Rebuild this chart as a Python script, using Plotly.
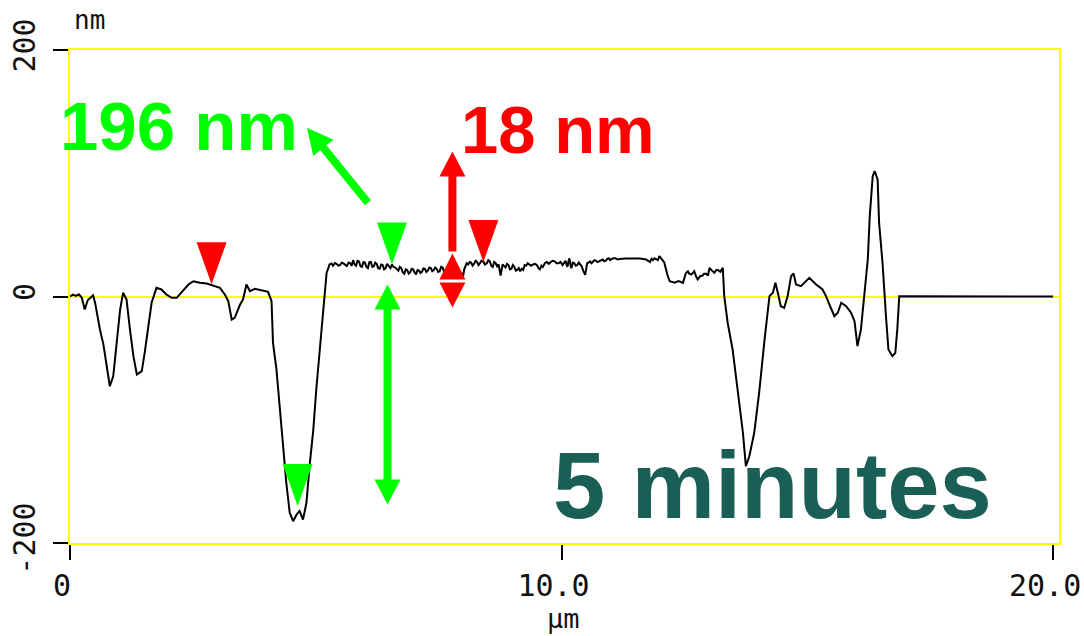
import math
import plotly.graph_objects as go

# Height profile along the scan line
profile_x_um = [
    0.00, 0.06, 0.12, 0.18, 0.24, 0.30, 0.36, 0.41, 0.47, 0.51, 0.61, 0.68, 0.75, 0.81,
    0.88, 0.95, 1.02, 1.08, 1.15, 1.22, 1.29, 1.36, 1.46, 1.52, 1.59, 1.66, 1.76, 1.86,
    1.96, 2.07, 2.17, 2.30, 2.41, 2.51, 2.64, 2.78, 2.91, 3.05, 3.15, 3.22, 3.29, 3.35,
    3.46, 3.52, 3.59, 3.66, 3.76, 3.86, 4.03, 4.10, 4.13, 4.20, 4.27, 4.33, 4.40, 4.47,
    4.54, 4.61, 4.67, 4.74, 4.81, 4.88, 4.95, 5.01, 5.08, 5.15, 5.22, 5.28,
    5.32, 5.35, 5.39, 5.42, 5.46, 5.49, 5.53, 5.56, 5.60, 5.63, 5.67, 5.70, 5.73, 5.76,
    5.79, 5.82, 5.85, 5.88, 5.91, 5.94, 5.97, 6.00, 6.03, 6.06, 6.09, 6.12, 6.15, 6.18,
    6.21, 6.24, 6.27, 6.30, 6.33, 6.36, 6.39, 6.42, 6.45, 6.48, 6.52, 6.55, 6.58, 6.62,
    6.65, 6.68, 6.71, 6.74, 6.77, 6.80, 6.83, 6.86, 6.89, 6.92, 6.95, 6.98, 7.01, 7.04,
    7.07, 7.10, 7.13, 7.16, 7.19, 7.22, 7.25, 7.28, 7.31, 7.34, 7.37, 7.40, 7.43, 7.46,
    7.49, 7.52, 7.55, 7.58, 7.61, 7.64, 7.67, 7.70, 7.73, 7.76, 7.79, 7.82, 7.85, 7.88,
    7.91, 7.94, 7.97, 7.99, 8.02, 8.04, 8.07, 8.10, 8.13, 8.16, 8.19, 8.22, 8.25, 8.28,
    8.31, 8.34, 8.37, 8.41, 8.44, 8.48, 8.51, 8.54, 8.57, 8.60, 8.63, 8.66, 8.69, 8.72,
    8.76, 8.80, 8.83, 8.86, 8.89, 8.92, 8.95, 8.98, 9.01, 9.04, 9.07, 9.10, 9.13, 9.16,
    9.19, 9.22, 9.25, 9.28, 9.31, 9.34, 9.38, 9.42, 9.46, 9.50, 9.53, 9.56, 9.59, 9.62,
    9.66, 9.70, 9.74, 9.78, 9.82, 9.86, 9.90, 9.94, 9.98, 10.02, 10.05, 10.08, 10.10,
    10.12, 10.14, 10.16, 10.18, 10.20, 10.23, 10.26, 10.29, 10.32, 10.35, 10.38, 10.41,
    10.44, 10.46, 10.48, 10.50, 10.52, 10.55, 10.58, 10.61, 10.64, 10.67, 10.70, 10.73,
    10.76, 10.80, 10.84, 10.87, 10.90, 10.93, 10.96, 10.99, 11.02, 11.06, 11.10, 11.14,
    11.18, 11.30, 11.45, 11.60, 11.72, 11.76, 11.80, 11.83, 11.86, 11.89, 11.92, 11.96,
    11.99, 12.05, 12.09, 12.15, 12.20, 12.30, 12.38, 12.47, 12.53, 12.57, 12.60, 12.64,
    12.67, 12.70, 12.74, 12.77, 12.82, 12.87, 12.90, 12.94, 12.98, 13.01, 13.06, 13.11,
    13.15, 13.18, 13.23, 13.28, 13.31, 13.38, 13.48, 13.58, 13.69, 13.75, 13.82, 13.92,
    14.02, 14.13, 14.23, 14.30, 14.35, 14.40, 14.46, 14.53, 14.60, 14.67, 14.72, 14.77,
    14.87, 15.04, 15.18, 15.31, 15.38, 15.45, 15.55, 15.62, 15.69, 15.79, 15.89, 15.96,
    16.00, 16.02, 16.09, 16.16, 16.23, 16.27, 16.33, 16.37, 16.43, 16.46, 16.53, 16.60,
    16.65, 16.73, 16.79, 16.83, 16.87, 20.00,
]
profile_nm = [
    0.0, 1.5, 0.5, 1.8, -1.0, -10.5, -3.0, -1.0, 1.0, -5.0, -27.0, -39.0, -56.5, -72.8,
    -64.6, -35.0, -10.5, 3.0, -2.4, -26.8, -48.4, -63.3, -60.6, -45.6, -24.0, -5.1, 7.0, 5.7,
    1.6, -1.1, -1.1, 4.3, 9.7, 12.4, 11.1, 10.5, 8.9, 7.0, 1.6, -3.8, -18.7, -17.3,
    -6.5, -2.4, 9.7, 4.3, 6.2, 5.1, 3.8, -3.8, -37.6, -59.2, -91.7, -121.5, -151.0, -175.5,
    -182.3, -177.0, -174.0, -181.0, -167.4, -135.0, -108.0, -75.5, -43.0, -7.9, 19.2, 26.0,
    26.8, 25.0, 27.2, 26.5, 25.0, 25.5, 27.4, 26.8, 25.2, 24.8, 27.6, 27.0, 25.0, 29.5,
    26.0, 25.0, 29.0, 28.5, 24.5, 24.0, 28.0, 27.5, 24.0, 23.0, 27.8, 28.0, 24.0, 24.5,
    27.5, 26.5, 23.0, 22.5, 26.0, 25.5, 22.0, 23.0, 26.5, 24.5, 23.0, 26.0, 24.0, 23.5,
    22.0, 21.0, 24.0, 23.0, 19.5, 18.5, 22.0, 21.5, 18.5, 19.5, 22.5, 22.0, 19.5, 18.0,
    21.5, 21.0, 19.0, 20.0, 22.8, 22.5, 20.0, 21.0, 23.5, 23.0, 20.5, 21.5, 23.5, 22.5,
    20.0, 20.5, 24.0, 23.5, 20.0, 21.0, 23.0, 22.0, 19.0, 19.5, 22.5, 21.5, 18.0, 18.5,
    20.0, 17.0, 19.0, 15.0, 22.0, 24.5, 27.0, 26.0, 28.0, 27.5, 25.0, 26.5, 29.0, 28.0,
    25.5, 27.0, 29.0, 28.4, 26.0, 27.0, 29.5, 28.5, 25.0, 24.0, 28.0, 27.0, 24.5, 26.0,
    17.0, 26.0, 25.0, 23.5, 26.5, 25.5, 22.0, 22.5, 25.5, 24.0, 21.0, 21.5, 23.0, 20.5,
    22.5, 21.5, 25.5, 25.0, 27.0, 26.0, 25.0, 26.0, 26.5, 25.5, 23.0, 22.0, 25.0, 24.0,
    27.0, 28.0, 26.5, 28.0, 29.0, 28.5, 27.0, 27.0, 28.0, 25.5, 27.5, 29.0, 26.0,
    24.0, 28.5, 31.0, 26.0, 23.0, 27.5, 27.0, 25.0, 25.5, 27.5, 26.0, 24.5,
    21.0, 19.0, 17.5, 22.0, 27.0, 27.5, 28.5, 27.0, 28.0, 29.5, 29.0, 28.0,
    28.5, 29.0, 30.0, 28.5, 29.0, 30.5, 31.0, 29.5, 30.5, 31.0, 31.0, 30.0,
    30.5, 30.8, 30.8, 30.8, 30.0, 29.0, 28.0, 30.5, 29.5, 31.0, 30.5, 29.5,
    32.7, 29.0, 27.6, 18.0, 12.4, 11.2, 12.5, 11.1, 19.0, 20.5, 18.5, 17.8,
    19.5, 20.5, 16.0, 13.8, 16.5, 17.0, 18.5, 18.5, 17.0, 23.3, 21.0, 19.2,
    21.5, 21.5, 20.0, 23.3, 0.3, -21.4, -43.0, -75.5, -110.6, -137.7, -129.6, -110.6,
    -78.0, -35.0, 0.3, 3.0, 11.1, 3.0, -7.9, -9.2, 0.3, 16.5, 18.7, 9.7,
    8.4, 15.1, 9.7, 5.7, 0.3, -6.5, -16.0, -13.2, -5.1, -7.9, -13.2, -20.0,
    -32.2, -40.3, -26.8, 0.3, 30.0, 65.2, 97.6, 101.7, 95.0, 59.8, 27.3, -16.0,
    -43.0, -48.4, -45.7, -26.8, 0.3, 0.0,
]

# Section cursors (position in µm, height in nm)
green_cursor_x = [4.63, 6.55]
green_cursor_nm = [-170.0, 26.0]
red_cursor_x = [2.88, 8.41]
red_cursor_nm = [10.0, 28.0]

x_tick_vals = [0, 10, 20]
x_tick_text = ["0", "10.0", "20.0"]
y_tick_vals = [-200, 0, 200]
y_tick_text = ["-200", "0", "200"]

GREEN = "#00ff00"
RED = "#ff0000"
TEAL = "#1a5f55"
YELLOW = "#ffff00"
MONO = "DejaVu Sans Mono"
SANS = "Liberation Sans, Arial, sans-serif"

# plot area in pixels
L, T, R, B = 70, 50, 25, 93
W_FIG, H_FIG = 1084, 636
PW, PH = W_FIG - L - R, H_FIG - T - B


def paper_x(px):
    return (px - L) / PW


def paper_y(py):
    return (T + PH - py) / PH


def poly(points):
    return "M" + " L".join(f"{x:.1f},{y:.1f}" for x, y in points) + " Z"


def arrow_polygon(x0, y0, x1, y1, head_len, head_w, shaft_w, double=False):
    """Arrow from (x0, y0) to (x1, y1) in pixel offsets (y up)."""
    dx, dy = x1 - x0, y1 - y0
    ln = math.hypot(dx, dy)
    ux, uy = dx / ln, dy / ln
    nx, ny = -uy, ux
    hw, sw = head_w / 2, shaft_w / 2

    def p(s, t):
        return (x0 + ux * s + nx * t, y0 + uy * s + ny * t)

    pts = []
    if double:
        pts += [p(0, 0), p(head_len, hw), p(head_len, sw)]
    else:
        pts += [p(0, sw)]
    pts += [p(ln - head_len, sw), p(ln - head_len, hw), p(ln, 0),
            p(ln - head_len, -hw), p(ln - head_len, -sw)]
    if double:
        pts += [p(head_len, -sw), p(head_len, -hw)]
    else:
        pts += [p(0, -sw)]
    return poly(pts)


def pixel_shape(xa, ya, path, color):
    return dict(type="path", xref="x", yref="y", xsizemode="pixel", ysizemode="pixel",
                xanchor=xa, yanchor=ya, path=path, fillcolor=color,
                line=dict(width=0), layer="above")


def cursor_shape(xa, ya, color):
    # downward triangle whose tip sits on the cursor point
    return pixel_shape(xa, ya, poly([(0, 0), (15, 42), (-15, 42)]), color)


fig = go.Figure()
fig.add_trace(go.Scatter(
    x=profile_x_um, y=profile_nm, mode="lines",
    line=dict(color="black", width=2), hoverinfo="skip", showlegend=False,
))

shapes = []
for cx, cy in zip(green_cursor_x, green_cursor_nm):
    shapes.append(cursor_shape(cx, cy, GREEN))
for cx, cy in zip(red_cursor_x, red_cursor_nm):
    shapes.append(cursor_shape(cx, cy, RED))

# green double arrow spanning the groove depth
shapes.append(pixel_shape(6.46, 0, arrow_polygon(0, -208, 0, 12, 25, 26, 8, double=True), GREEN))
# green pointer to the depth label
shapes.append(pixel_shape(4.82, 137, arrow_polygon(61, -75, 0, 0, 26, 26, 8), GREEN))
# red arrow pointing to the step label
shapes.append(pixel_shape(7.78, 0, arrow_polygon(0, 45, 0, 145, 25, 26, 8), RED))
# small red double arrow marking the step
shapes.append(pixel_shape(7.78, 0, poly([(0, 43), (13, 17), (-13, 17)]), RED))
shapes.append(pixel_shape(7.78, 0, poly([(0, -11), (13, 14), (-13, 14)]), RED))

depth_nm = round(green_cursor_nm[1] - green_cursor_nm[0])
step_nm = round(red_cursor_nm[1] - red_cursor_nm[0])

annotations = [
    dict(text="nm", x=paper_x(89), y=paper_y(20), xref="paper", yref="paper",
         xanchor="center", yanchor="middle", showarrow=False,
         font=dict(family=MONO, size=26, color="#111111")),
    dict(text="µm", x=paper_x(563), y=paper_y(618), xref="paper", yref="paper",
         xanchor="center", yanchor="middle", showarrow=False,
         font=dict(family=MONO, size=27, color="#111111")),
    dict(text=f"<b>{depth_nm} nm</b>", x=paper_x(58), y=paper_y(126), xref="paper",
         yref="paper", xanchor="left", yanchor="middle", showarrow=False,
         font=dict(family=SANS, size=69, color=GREEN)),
    dict(text=f"<b>{step_nm} nm</b>", x=paper_x(459), y=paper_y(129), xref="paper",
         yref="paper", xanchor="left", yanchor="middle", showarrow=False,
         font=dict(family=SANS, size=67, color=RED)),
    dict(text="<b>5 minutes</b>", x=paper_x(551), y=paper_y(485), xref="paper",
         yref="paper", xanchor="left", yanchor="middle", showarrow=False,
         font=dict(family=SANS, size=94, color=TEAL)),
]

axis_common = dict(
    showgrid=False, showline=True, linecolor=YELLOW, linewidth=2, mirror=True,
    ticks="outside", ticklen=15, tickwidth=1.5, tickcolor="black", automargin=False,
    tickfont=dict(family=MONO, size=30, color="#111111"),
)

fig.update_layout(
    width=W_FIG, height=H_FIG,
    margin=dict(l=L, r=R, t=T, b=B, pad=0, autoexpand=False),
    paper_bgcolor="white", plot_bgcolor="white",
    xaxis=dict(range=[0, 20.12], tickvals=x_tick_vals, ticktext=x_tick_text,
               zeroline=False, ticklabelshift=-8, ticklabelstandoff=0, **axis_common),
    yaxis=dict(range=[-200, 200], tickvals=y_tick_vals, ticktext=y_tick_text,
               tickangle=-90, zeroline=True, zerolinecolor=YELLOW, zerolinewidth=2,
               ticklabelstandoff=6, **axis_common),
    shapes=shapes,
    annotations=annotations,
)

fig.write_html("out.html")
